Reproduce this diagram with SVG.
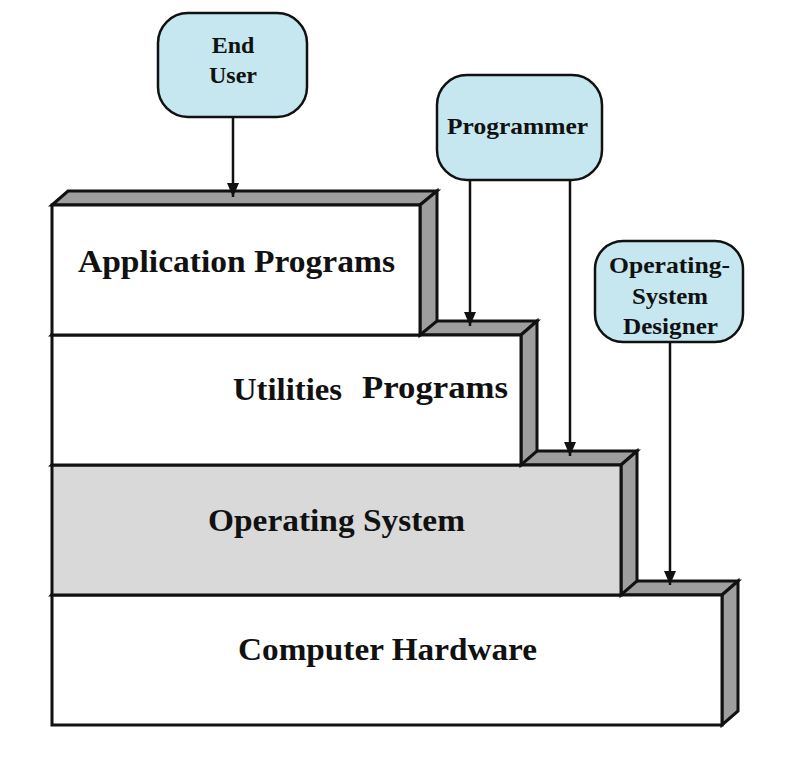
<svg xmlns="http://www.w3.org/2000/svg" width="800" height="760" viewBox="0 0 800 760">
<defs>
<style>
.face{fill:#ffffff;stroke:#111;stroke-width:3;stroke-linejoin:miter}
.os{fill:#d9d9d9}
.side{fill:#9e9e9e;stroke:#111;stroke-width:3;stroke-linejoin:miter}
.bub{fill:#c6e7ef;stroke:#111;stroke-width:2.5}
.lbl{font-family:"Liberation Serif","Times New Roman",serif;font-weight:bold;fill:#111}
.big{font-size:32px}
.sm{font-size:24px}
.conn{stroke:#111;stroke-width:2.5;fill:none}
</style>
<marker id="ah" viewBox="0 0 14 12" refX="14" refY="6" markerWidth="14" markerHeight="12" markerUnits="userSpaceOnUse" orient="auto">
<path d="M0,0 L14,6 L0,12 Z" fill="#111"/>
</marker>
</defs>
<rect width="800" height="760" fill="#fff"/>

<g id="hardware">
<polygon class="side" points="52,595 68,581 738,581 722,595"/>
<polygon class="side" points="722,595 738,581 738,711 722,725"/>
<rect class="face" x="52" y="595" width="670" height="130"/>
<text class="lbl big" x="238" y="660" textLength="299" lengthAdjust="spacingAndGlyphs">Computer Hardware</text>
</g>

<g id="os">
<polygon class="side" points="52,465 68,451 637,451 621,465"/>
<polygon class="side" points="621,465 637,451 637,581 621,595"/>
<rect class="face os" x="52" y="465" width="569" height="130"/>
<text class="lbl big" x="208" y="531" textLength="257" lengthAdjust="spacingAndGlyphs">Operating System</text>
</g>

<g id="utilities">
<polygon class="side" points="52,335 68,321 537,321 521,335"/>
<polygon class="side" points="521,335 537,321 537,451 521,465"/>
<rect class="face" x="52" y="335" width="469" height="130"/>
<text class="lbl big" x="233" y="400" textLength="109" lengthAdjust="spacingAndGlyphs">Utilities</text>
<text class="lbl big" x="362" y="398" textLength="146" lengthAdjust="spacingAndGlyphs">Programs</text>
</g>

<g id="application">
<polygon class="side" points="52,205 68,191 437,191 420,205"/>
<polygon class="side" points="420,205 437,191 437,321 420,335"/>
<rect class="face" x="52" y="205" width="368" height="130"/>
<text class="lbl big" x="78" y="272" textLength="317" lengthAdjust="spacingAndGlyphs">Application Programs</text>
</g>

<g id="connectors">
<line class="conn" x1="233" y1="117" x2="233" y2="197" marker-end="url(#ah)"/>
<line class="conn" x1="470" y1="180" x2="470" y2="326" marker-end="url(#ah)"/>
<line class="conn" x1="570" y1="180" x2="570" y2="456" marker-end="url(#ah)"/>
<line class="conn" x1="670" y1="342" x2="670" y2="585" marker-end="url(#ah)"/>
</g>

<g id="end-user">
<rect class="bub" x="158" y="13" width="149" height="104" rx="30" ry="30"/>
<text class="lbl sm" x="233" y="53" text-anchor="middle">End</text>
<text class="lbl sm" x="233" y="83" text-anchor="middle">User</text>
</g>

<g id="programmer">
<rect class="bub" x="437" y="75" width="165" height="105" rx="30" ry="30"/>
<text class="lbl sm" x="447" y="134" textLength="141" lengthAdjust="spacingAndGlyphs">Programmer</text>
</g>

<g id="os-designer">
<rect class="bub" x="595" y="241" width="148" height="101" rx="28" ry="28"/>
<text class="lbl" font-size="23" x="609" y="273" textLength="121" lengthAdjust="spacingAndGlyphs">Operating-</text>
<text class="lbl" font-size="23" x="632" y="304" textLength="76" lengthAdjust="spacingAndGlyphs">System</text>
<text class="lbl" font-size="23" x="623" y="334" textLength="95" lengthAdjust="spacingAndGlyphs">Designer</text>
</g>
</svg>
